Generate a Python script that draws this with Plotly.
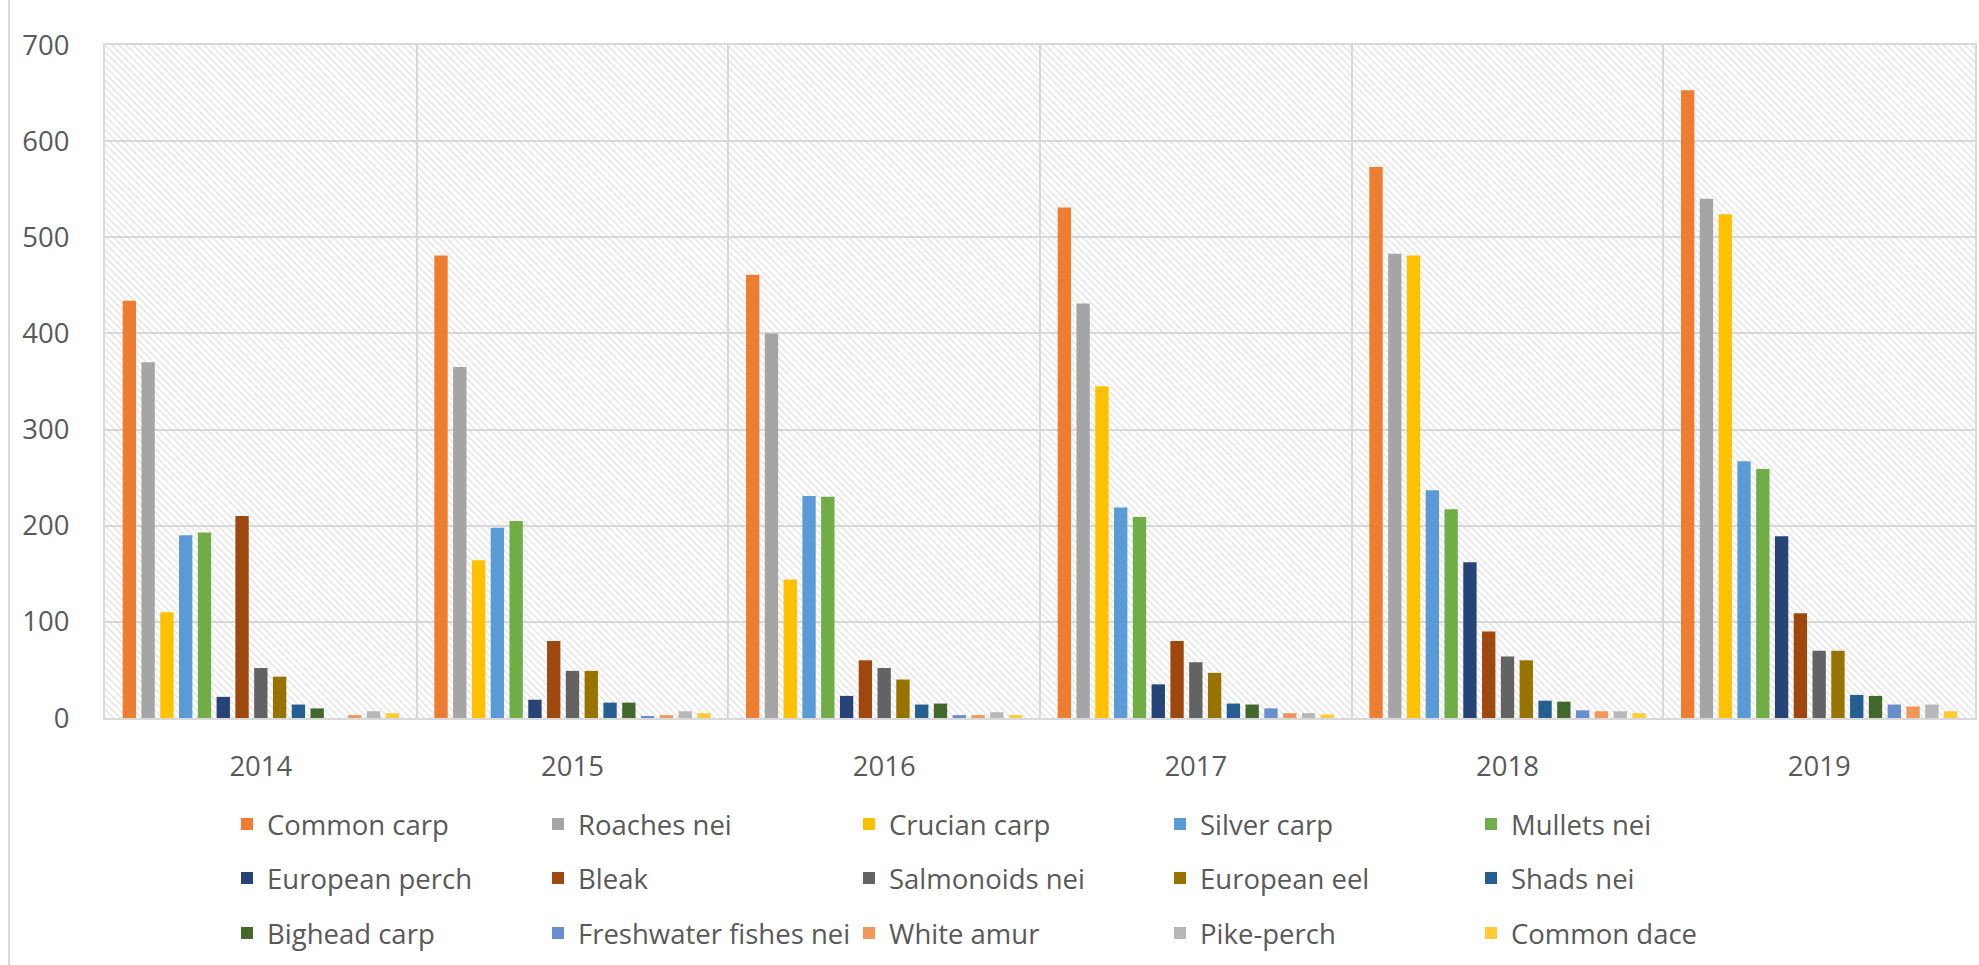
import plotly.graph_objects as go

years = ["2014", "2015", "2016", "2017", "2018", "2019"]

species = ["Common carp", "Roaches nei", "Crucian carp", "Silver carp", "Mullets nei",
           "European perch", "Bleak", "Salmonoids nei", "European eel", "Shads nei",
           "Bighead carp", "Freshwater fishes nei", "White amur", "Pike-perch", "Common dace"]

common_carp = [434, 481, 461, 531, 573, 653]
roaches_nei = [370, 365, 400, 431, 483, 540]
crucian_carp = [110, 164, 144, 345, 481, 524]
silver_carp = [190, 198, 231, 219, 237, 267]
mullets_nei = [193, 205, 230, 209, 217, 259]
european_perch = [22, 19, 23, 35, 162, 189]
bleak = [210, 80, 60, 80, 90, 109]
salmonoids_nei = [52, 49, 52, 58, 64, 70]
european_eel = [43, 49, 40, 47, 60, 70]
shads_nei = [14, 16, 14, 15, 18, 24]
bighead_carp = [10, 16, 15, 14, 17, 23]
freshwater_fishes_nei = [0, 1.5, 3, 10, 8, 14]
white_amur = [3, 3, 3, 5, 7, 12]
pike_perch = [7, 7, 6, 5, 7, 14]
common_dace = [5, 5, 3, 3.5, 5, 7]

series = [common_carp, roaches_nei, crucian_carp, silver_carp, mullets_nei,
          european_perch, bleak, salmonoids_nei, european_eel, shads_nei,
          bighead_carp, freshwater_fishes_nei, white_amur, pike_perch, common_dace]

colors = ["#ED7D31", "#A5A5A5", "#FFC000", "#5B9BD5", "#70AD47",
          "#264478", "#9E480E", "#636363", "#997300", "#255E91",
          "#43682B", "#698ED0", "#F1975A", "#B7B7B7", "#FFCD33"]

y_ticks = [0, 100, 200, 300, 400, 500, 600, 700]
y_max = 700

W, H = 1979, 965
ML, MR, MT, MB = 105, 4, 45, 247
PH = H - MT - MB

FONT = "Open Sans"
TXT = "#595959"
GRID = "#d9d9d9"

fig = go.Figure()

# hatched plot-area background (decoration)
fig.add_trace(go.Bar(
    x=[0.5], y=[y_max], width=[1], xaxis="x", yaxis="y",
    marker=dict(color="rgba(0,0,0,0)", line=dict(width=0),
                pattern=dict(shape="\\", fgcolor="#cfcfcf", bgcolor="rgba(255,255,255,0)",
                             size=5, solidity=0.35)),
    showlegend=False, hoverinfo="skip"))

legend_ids = ["legend", "legend2", "legend3"]
for i, (name, vals, col) in enumerate(zip(species, series, colors)):
    fig.add_trace(go.Bar(
        name=name, x=years, y=vals, xaxis="x2", yaxis="y2",
        marker=dict(color=col, line=dict(width=0)),
        legend=legend_ids[i // 5]))

def py(px):
    return (H - MB - px) / PH

legend_common = dict(orientation="h", xanchor="left", yanchor="middle",
                     x=(227 - ML) / (W - ML - MR),
                     font=dict(family=FONT, size=27.5, color=TXT),
                     entrywidth=266, entrywidthmode="pixels",
                     bgcolor="rgba(0,0,0,0)", borderwidth=0, traceorder="normal")

fig.update_layout(
    width=W, height=H,
    margin=dict(l=ML, r=MR, t=MT, b=MB, autoexpand=False),
    paper_bgcolor="white", plot_bgcolor="white",
    barmode="group", bargap=0.096, bargroupgap=0.29,
    font=dict(family=FONT, size=27, color=TXT),
    xaxis=dict(range=[0, 1], visible=False, fixedrange=True),
    yaxis=dict(range=[0, y_max], visible=False, fixedrange=True),
    xaxis2=dict(overlaying="x", anchor="y2", side="bottom", type="category",
                tickson="boundaries", showgrid=True, gridcolor=GRID, gridwidth=1.5,
                showline=True, linecolor=GRID, linewidth=2, mirror=True,
                ticks="", ticklabelstandoff=23,
                tickfont=dict(family=FONT, size=27.5, color=TXT)),
    yaxis2=dict(overlaying="y", anchor="x2", side="left", range=[0, y_max],
                tickvals=y_ticks, showgrid=True, gridcolor=GRID, gridwidth=1.5,
                showline=True, linecolor=GRID, linewidth=2, mirror=True,
                ticks="", ticklabelstandoff=28, zeroline=False,
                tickfont=dict(family=FONT, size=27.5, color=TXT)),
    legend=dict(legend_common, y=py(824)),
    legend2=dict(legend_common, y=py(878)),
    legend3=dict(legend_common, y=py(933)),
    shapes=[dict(type="line", xref="paper", yref="paper",
                 x0=(9 - ML) / (W - ML - MR), x1=(9 - ML) / (W - ML - MR),
                 y0=py(965), y1=py(0), line=dict(color=GRID, width=2))],
)

fig.write_html("out.html")
